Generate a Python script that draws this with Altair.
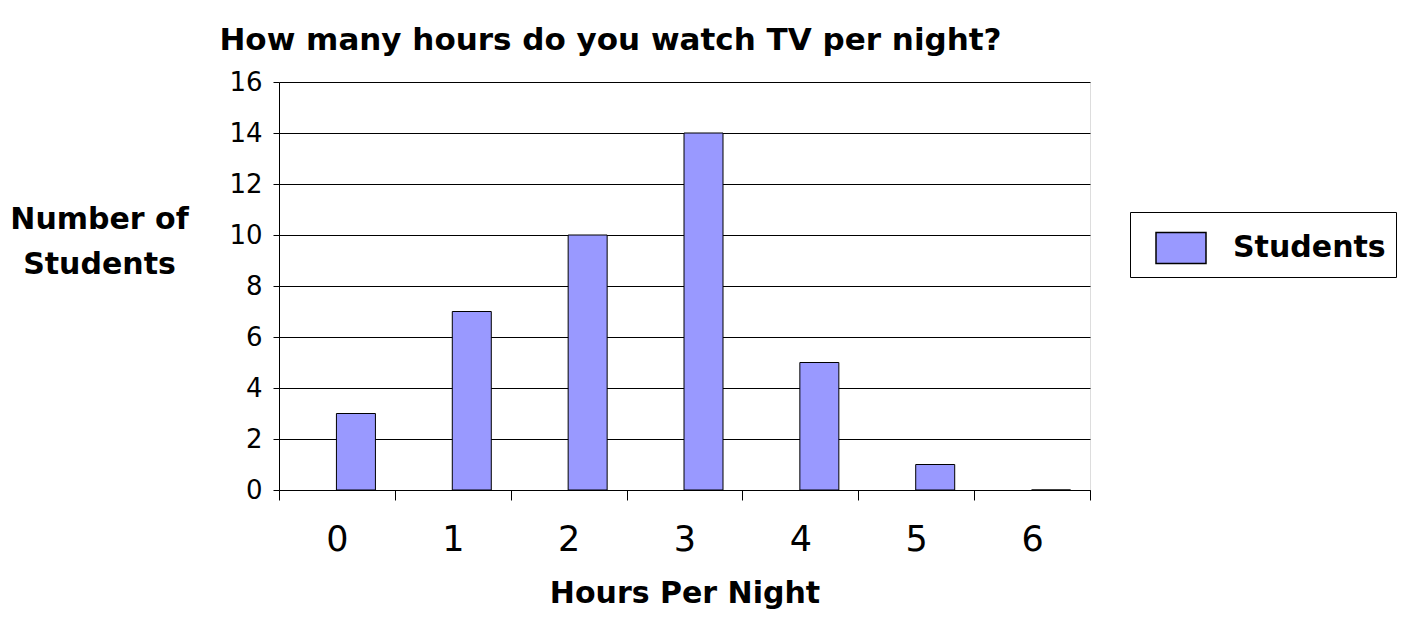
import altair as alt
import pandas as pd

hours = ["0", "1", "2", "3", "4", "5", "6"]
students = [3, 7, 10, 14, 5, 1, 0]
series = ["Students"] * len(hours)
y_ticks = [0, 2, 4, 6, 8, 10, 12, 14, 16]

df = pd.DataFrame({"Hours": hours, "Students": students, "Series": series})

FONT = "DejaVu Sans"

chart = alt.Chart(df).mark_bar(
    stroke="black", strokeWidth=1, width=39, xOffset=19
).encode(
    x=alt.X(
        "Hours:N",
        sort=hours,
        scale=alt.Scale(paddingInner=0, paddingOuter=0),
        axis=alt.Axis(
            title="Hours Per Night",
            labelAngle=0,
            tickBand="extent",
            tickSize=10,
            tickColor="black",
            domainColor="black",
            labelFont=FONT,
            labelFontSize=35,
            labelColor="black",
            labelPadding=22,
            titleFont=FONT,
            titleFontSize=30,
            titleFontWeight="bold",
            titleColor="black",
            titleBaseline="alphabetic",
            titleY=112,
            grid=False,
        ),
    ),
    y=alt.Y(
        "Students:Q",
        scale=alt.Scale(domain=[0, 16], nice=False),
        axis=alt.Axis(
            values=y_ticks,
            title=["Number of", "Students"],
            titleAngle=0,
            titleAlign="center",
            titleBaseline="alphabetic",
            titleX=-180,
            titleY=146,
            titleLineHeight=45,
            titleFont=FONT,
            titleFontSize=30,
            titleFontWeight="bold",
            titleColor="black",
            labelFont=FONT,
            labelFontSize=26,
            labelColor="black",
            labelPadding=11,
            tickSize=6,
            tickColor="black",
            domainColor="black",
            grid=True,
            gridColor="black",
            gridOpacity=1,
        ),
    ),
    color=alt.Color(
        "Series:N",
        scale=alt.Scale(range=["#9999FF"]),
        legend=alt.Legend(
            title=None,
            orient="none",
            legendX=851,
            legendY=130,
            padding=10,
            strokeColor="black",
            fillColor="white",
            symbolType="M-1,-0.62L1,-0.62L1,0.62L-1,0.62Z",
            symbolSize=2500,
            symbolStrokeColor="black",
            symbolStrokeWidth=1.5,
            symbolOpacity=1,
            symbolOffset=15,
            labelOffset=26,
            labelFont=FONT,
            labelFontSize=30,
            labelFontWeight="bold",
            labelColor="black",
        ),
    ),
).properties(
    width=811,
    height=408,
    title=alt.TitleParams(
        "How many hours do you watch TV per night?",
        font=FONT,
        fontSize=31,
        fontWeight="bold",
        color="black",
        anchor="middle",
        dx=-74,
        dy=44,
        baseline="alphabetic",
        offset=32,
    ),
    autosize=alt.AutoSizeParams(type="none"),
    padding={"left": 271, "top": 74, "right": 317, "bottom": 123},
).configure_view(stroke=None).configure(background="white")

chart.save("out.html", embed_options={"renderer": "svg", "actions": False})
